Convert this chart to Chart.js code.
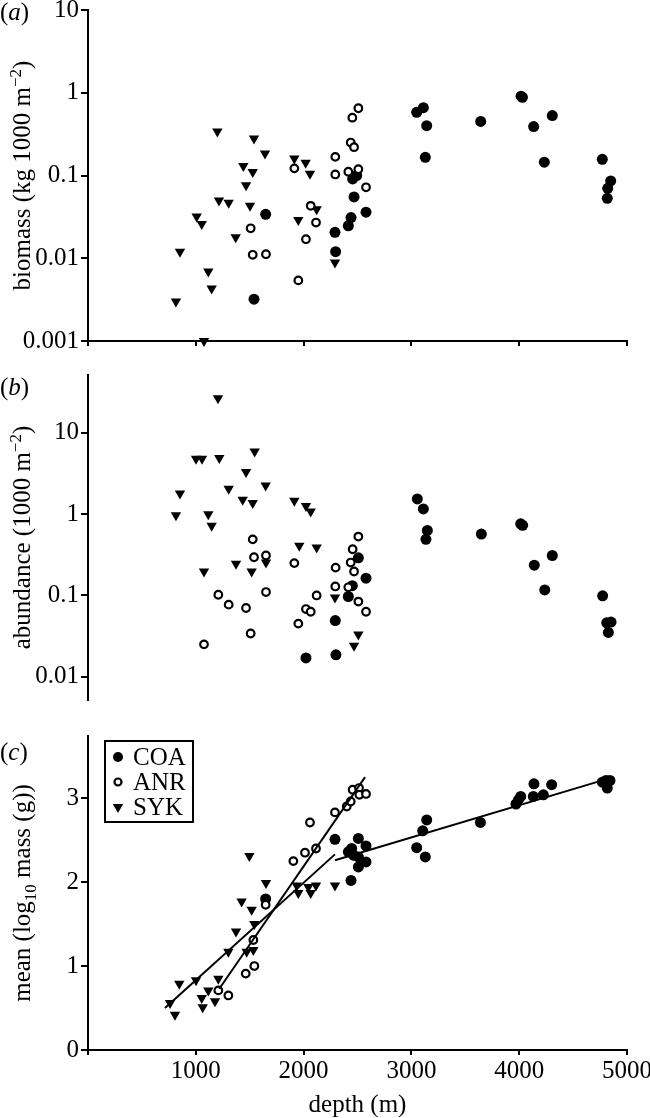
<!DOCTYPE html>
<html>
<head>
<meta charset="utf-8">
<script src="https://cdn.jsdelivr.net/npm/chart.js@4.4.1/dist/chart.umd.min.js"></script>
<style>
	body { margin: 0; background: #fff; }
	#wrap { position: relative; width: 650px; height: 1118px; }
	canvas { position: absolute; left: 0; }
</style>
</head>
<body>
<div id="wrap">
	<canvas id="panel-a" width="650" height="360" style="top:0"></canvas>
	<canvas id="panel-b" width="650" height="360" style="top:360px"></canvas>
	<canvas id="panel-c" width="650" height="398" style="top:720px"></canvas>
</div>
<script>
/* global Chart */
'use strict';

var seriesNames    = [ 'COA', 'ANR', 'SYK' ];
var depthTicks     = [ 0, 1000, 2000, 3000, 4000, 5000 ];
var biomassTicks   = [ 10, 1, 0.1, 0.01, 0.001 ];
var abundanceTicks = [ 10, 1, 0.1, 0.01 ];
var massTicks      = [ 0, 1, 2, 3 ];

// ── (a) biomass ─────────────────────────────────────────────────────────
var coaDepthA = [ 1540, 1648, 2291, 2297, 2415, 2440, 2455, 2468, 2492, 2579, 3049, 3111, 3129, 3142, 3643, 4017, 4030, 4134, 4233, 4307, 4771, 4817, 4821, 4849 ];
var coaBiomass = [ 0.0032, 0.034, 0.0206, 0.012, 0.0247, 0.031, 0.091, 0.055, 0.10, 0.036, 0.58, 0.66, 0.166, 0.40, 0.45, 0.91, 0.88, 0.39, 0.145, 0.53, 0.157, 0.053, 0.07, 0.086 ];
var anrDepthA = [ 1509, 1528, 1651, 1914, 1951, 2022, 2066, 2115, 2294, 2294, 2415, 2437, 2452, 2468, 2508, 2508, 2579 ];
var anrBiomass = [ 0.023, 0.011, 0.0112, 0.122, 0.0054, 0.017, 0.043, 0.027, 0.168, 0.103, 0.111, 0.25, 0.50, 0.22, 0.119, 0.65, 0.072 ];
var sykDepthA = [ 816, 853, 1008, 1055, 1076, 1116, 1147, 1200, 1215, 1305, 1370, 1441, 1466, 1503, 1528, 1540, 1642, 1914, 1951, 2019, 2059, 2121, 2291 ];
var sykBiomass = [ 0.003, 0.012, 0.032, 0.026, 0.001, 0.0069, 0.0043, 0.34, 0.05, 0.047, 0.018, 0.13, 0.076, 0.043, 0.11, 0.28, 0.185, 0.16, 0.029, 0.143, 0.105, 0.039, 0.0089 ];

// ── (b) abundance ───────────────────────────────────────────────────────
var coaDepthB = [ 2022, 2294, 2300, 2415, 2452, 2508, 2579, 3055, 3111, 3135, 3148, 3649, 4014, 4032, 4140, 4237, 4307, 4774, 4812, 4827, 4852 ];
var coaAbundance = [ 0.017, 0.049, 0.0186, 0.097, 0.132, 0.29, 0.163, 1.54, 1.16, 0.49, 0.63, 0.57, 0.76, 0.73, 0.236, 0.117, 0.31, 0.099, 0.046, 0.035, 0.047 ];
var anrDepthB = [ 1076, 1209, 1305, 1466, 1509, 1528, 1540, 1651, 1651, 1914, 1951, 2022, 2066, 2121, 2294, 2297, 2415, 2437, 2455, 2468, 2508, 2508, 2579 ];
var anrAbundance = [ 0.025, 0.102, 0.077, 0.07, 0.034, 0.49, 0.295, 0.31, 0.11, 0.25, 0.045, 0.068, 0.063, 0.10, 0.129, 0.22, 0.126, 0.254, 0.37, 0.197, 0.53, 0.084, 0.063 ];
var sykDepthB = [ 816, 853, 1002, 1058, 1076, 1116, 1147, 1206, 1218, 1305, 1373, 1435, 1466, 1518, 1528, 1546, 1648, 1651, 1914, 1960, 2022, 2066, 2121, 2291, 2468, 2508 ];
var sykAbundance = [ 0.97, 1.8, 4.8, 4.8, 0.197, 1.0, 0.72, 26.7, 4.9, 2.05, 0.245, 1.5, 3.3, 0.197, 1.37, 5.9, 2.25, 0.254, 1.46, 0.41, 1.26, 1.08, 0.39, 0.094, 0.024, 0.033 ];

// ── (c) mean log10 mass ─────────────────────────────────────────────────
var coaDepthC = [ 1648, 2291, 2415, 2440, 2446, 2462, 2508, 2508, 2508, 2579, 2579, 3049, 3105, 3129, 3142, 3640, 3970, 3993, 4014, 4131, 4137, 4224, 4301, 4771, 4805, 4817, 4842 ];
var coaMass = [ 1.80, 2.51, 2.36, 2.02, 2.4, 2.32, 2.52, 2.3, 2.18, 2.43, 2.24, 2.41, 2.61, 2.3, 2.74, 2.71, 2.93, 2.98, 3.02, 3.02, 3.17, 3.04, 3.16, 3.19, 3.21, 3.12, 3.21 ];
var anrDepthC = [ 1209, 1302, 1463, 1534, 1543, 1648, 1905, 2013, 2059, 2115, 2291, 2400, 2437, 2455, 2514, 2517, 2579 ];
var anrMass = [ 0.71, 0.65, 0.91, 1.31, 1.0, 1.73, 2.25, 2.35, 2.71, 2.4, 2.83, 2.9, 2.96, 3.1, 3.12, 3.04, 3.05 ];
var sykDepthC = [ 761, 807, 847, 1002, 1055, 1064, 1116, 1178, 1209, 1302, 1373, 1425, 1472, 1497, 1518, 1534, 1543, 1651, 1936, 1951, 2044, 2066, 2115, 2291 ];
var sykMass = [ 0.56, 0.42, 0.79, 0.83, 0.62, 0.51, 0.71, 0.58, 0.85, 1.17, 1.41, 1.77, 1.17, 2.31, 1.67, 1.19, 1.5, 1.99, 1.96, 1.87, 1.94, 1.87, 1.96, 1.96 ];

// regression lines (end points)
var coaFitDepth = [ 2291, 4873 ];
var coaFit      = [ 2.26, 3.25 ];
var anrFitDepth = [ 1218, 2570 ];
var anrFit      = [ 0.73, 3.25 ];
var sykFitDepth = [ 714, 2291 ];
var sykFit      = [ 0.50, 2.33 ];

var FONT = '"Liberation Serif", "Times New Roman", serif';

function pts( xs, ys ) {
	return xs.map( function ( x, i ) { return { x : x, y : ys[ i ] }; } );
}

// marker styles for COA / ANR / SYK
var markers = [
	{ pointStyle : 'circle',   pointRadius : 5.5, pointBackgroundColor : '#000', pointBorderColor : '#000', pointBorderWidth : 0, order : 2 },
	{ pointStyle : 'circle',   pointRadius : 3.8, pointBackgroundColor : '#fff', pointBorderColor : '#000', pointBorderWidth : 2.2, order : 1 },
	{ pointStyle : 'triangle', pointRadius : 6,   pointBackgroundColor : '#000', pointBorderColor : '#000', pointBorderWidth : 0, pointRotation : 180, order : 3 },
];

function seriesSets( data ) {
	return data.map( function ( d, i ) {
		return Object.assign( {
			label     : seriesNames[ i ],
			data      : d,
			showLine  : false,
			clip      : false,
		}, markers[ i ] );
	} );
}

function fitSet( xs, ys ) {
	return {
		type        : 'line',
		data        : pts( xs, ys ),
		showLine    : true,
		pointRadius : 0,
		borderColor : '#000',
		borderWidth : 2,
		order       : 0,
	};
}

// rich text for the rotated y titles
function drawRich( ctx, segs, baseX, cy ) {
	ctx.save();
	ctx.translate( baseX, cy );
	ctx.rotate( -Math.PI / 2 );
	ctx.textBaseline = 'alphabetic';
	ctx.textAlign = 'left';
	var total = 0;
	segs.forEach( function ( s ) {
		ctx.font = ( s.sup || s.sub ? '17px ' : '25px ' ) + FONT;
		s.w = ctx.measureText( s.t ).width;
		total += s.w;
	} );
	var x = -total / 2;
	segs.forEach( function ( s ) {
		ctx.font = ( s.sup || s.sub ? '17px ' : '25px ' ) + FONT;
		ctx.fillText( s.t, x, s.sup ? -9 : ( s.sub ? 6 : 0 ) );
		x += s.w;
	} );
	ctx.restore();
}

function drawLetter( ctx, letter, y ) {
	ctx.textBaseline = 'middle';
	ctx.textAlign = 'left';
	var x = 0;
	ctx.font = '25px ' + FONT;
	ctx.fillText( '(', x, y );
	x += ctx.measureText( '(' ).width;
	ctx.font = 'italic 25px ' + FONT;
	ctx.fillText( letter, x, y );
	x += ctx.measureText( letter ).width;
	ctx.font = '25px ' + FONT;
	ctx.fillText( ')', x, y );
}

function drawMarker( ctx, i, x, y ) {
	ctx.beginPath();
	if ( i === 2 ) {
		ctx.moveTo( x - 5.2, y - 3 );
		ctx.lineTo( x + 5.2, y - 3 );
		ctx.lineTo( x, y + 6 );
		ctx.closePath();
		ctx.fill();
	} else if ( i === 0 ) {
		ctx.arc( x, y, 5, 0, Math.PI * 2 );
		ctx.fill();
	} else {
		ctx.arc( x, y, 3.5, 0, Math.PI * 2 );
		ctx.lineWidth = 2.2;
		ctx.stroke();
	}
}

var decoPlugin = {
	id : 'deco',
	afterDraw : function ( chart, args, opts ) {
		var ctx = chart.ctx;
		var area = chart.chartArea;
		ctx.save();
		ctx.fillStyle = '#000';
		ctx.strokeStyle = '#000';
		drawLetter( ctx, opts.letter, opts.letterY );
		drawRich( ctx, opts.title, 30, ( area.top + area.bottom ) / 2 );
		if ( opts.legend ) {
			ctx.lineWidth = 2;
			ctx.strokeRect( 105, 21, 88, 81 );
			seriesNames.forEach( function ( name, i ) {
				var y = 37 + i * 25;
				drawMarker( ctx, i, 118, y );
				ctx.font = '25px ' + FONT;
				ctx.textBaseline = 'middle';
				ctx.textAlign = 'left';
				ctx.fillText( name, 133, y + 1 );
			} );
		}
		ctx.restore();
	},
};

function tickFont() {
	return { family : FONT, size : 25, lineHeight : 1.2 };
}

function yScale( type, min, max, ticks, showTickLen ) {
	return {
		type : type,
		min  : min,
		max  : max,
		afterBuildTicks : function ( s ) {
			s.ticks = ticks.map( function ( v ) { return { value : v }; } );
		},
		afterFit : function ( s ) {
			s.width = 88;
			s.paddingTop = 0;
			s.paddingBottom = 0;
		},
		ticks : {
			callback : function ( v ) { return String( v ); },
			font     : tickFont(),
			color    : '#000',
			padding  : 2,
			autoSkip : false,
		},
		grid   : { drawOnChartArea : false, tickLength : showTickLen, color : '#000', lineWidth : 2 },
		border : { color : '#000', width : 2 },
	};
}

function xScale( display, labels, height, title ) {
	return {
		type    : 'linear',
		display : display,
		min     : 0,
		max     : 5000,
		afterBuildTicks : function ( s ) {
			s.ticks = depthTicks.map( function ( v ) { return { value : v }; } );
		},
		afterFit : function ( s ) {
			s.height = height;
			s.paddingLeft = 0;
			s.paddingRight = 0;
		},
		ticks : {
			callback : function ( v ) { return labels && v !== 0 ? String( v ) : ''; },
			font     : tickFont(),
			color    : '#000',
			padding  : 1,
			autoSkip : false,
			maxRotation : 0,
		},
		grid   : { drawOnChartArea : false, tickLength : 5, color : '#000', lineWidth : 2 },
		border : { color : '#000', width : 2 },
		title  : title ? {
			display : true,
			text    : title,
			color   : '#000',
			font    : { family : FONT, size : 25, lineHeight : 1 },
			padding : { top : 0, bottom : 0 },
		} : { display : false },
	};
}

function baseOptions( padding, scales, deco ) {
	return {
		responsive : false,
		animation  : false,
		layout     : { padding : padding },
		scales     : scales,
		plugins    : {
			legend  : { display : false },
			tooltip : { enabled : false },
			deco    : deco,
		},
	};
}

// ── Panel (a): biomass ──────────────────────────────────────────────────
new Chart( document.getElementById( 'panel-a' ), {
	type : 'scatter',
	data : {
		datasets : seriesSets( [
			pts( coaDepthA, coaBiomass ),
			pts( anrDepthA, anrBiomass ),
			pts( sykDepthA, sykBiomass ),
		] ),
	},
	options : baseOptions(
		{ top : 10, right : 23, bottom : 0, left : 0 },
		{
			x : xScale( true, false, 19, null ),
			y : yScale( 'logarithmic', 0.001, 10, biomassTicks, 7 ),
		},
		{
			letter  : 'a',
			letterY : 13,
			title   : [ { t : 'biomass (kg 1000 m' }, { t : '\u22122', sup : true }, { t : ')' } ],
		}
	),
	plugins : [ decoPlugin ],
} );

// ── Panel (b): abundance ────────────────────────────────────────────────
new Chart( document.getElementById( 'panel-b' ), {
	type : 'scatter',
	data : {
		datasets : seriesSets( [
			pts( coaDepthB, coaAbundance ),
			pts( anrDepthB, anrAbundance ),
			pts( sykDepthB, sykAbundance ),
		] ),
	},
	options : baseOptions(
		{ top : 15, right : 23, bottom : 20, left : 0 },
		{
			x : xScale( false, false, 0, null ),
			y : yScale( 'logarithmic', Math.pow( 10, -2.287 ), Math.pow( 10, 1.713 ), abundanceTicks, 7 ),
		},
		{
			letter  : 'b',
			letterY : 28,
			title   : [ { t : 'abundance (1000 m' }, { t : '\u22122', sup : true }, { t : ')' } ],
		}
	),
	plugins : [ decoPlugin ],
} );

// ── Panel (c): mean log10 mass with fitted lines ────────────────────────
new Chart( document.getElementById( 'panel-c' ), {
	type : 'scatter',
	data : {
		datasets : seriesSets( [
			pts( coaDepthC, coaMass ),
			pts( anrDepthC, anrMass ),
			pts( sykDepthC, sykMass ),
		] ).concat( [
			fitSet( coaFitDepth, coaFit ),
			fitSet( anrFitDepth, anrFit ),
			fitSet( sykFitDepth, sykFit ),
		] ),
	},
	options : baseOptions(
		{ top : 16, right : 23, bottom : 0, left : 0 },
		{
			x : xScale( true, true, 68, 'depth (m)' ),
			y : yScale( 'linear', 0, 3.74, massTicks, 7 ),
		},
		{
			letter  : 'c',
			letterY : 33,
			title   : [ { t : 'mean (log' }, { t : '10', sub : true }, { t : ' mass (g))' } ],
			legend  : true,
		}
	),
	plugins : [ decoPlugin ],
} );
</script>
</body>
</html>
